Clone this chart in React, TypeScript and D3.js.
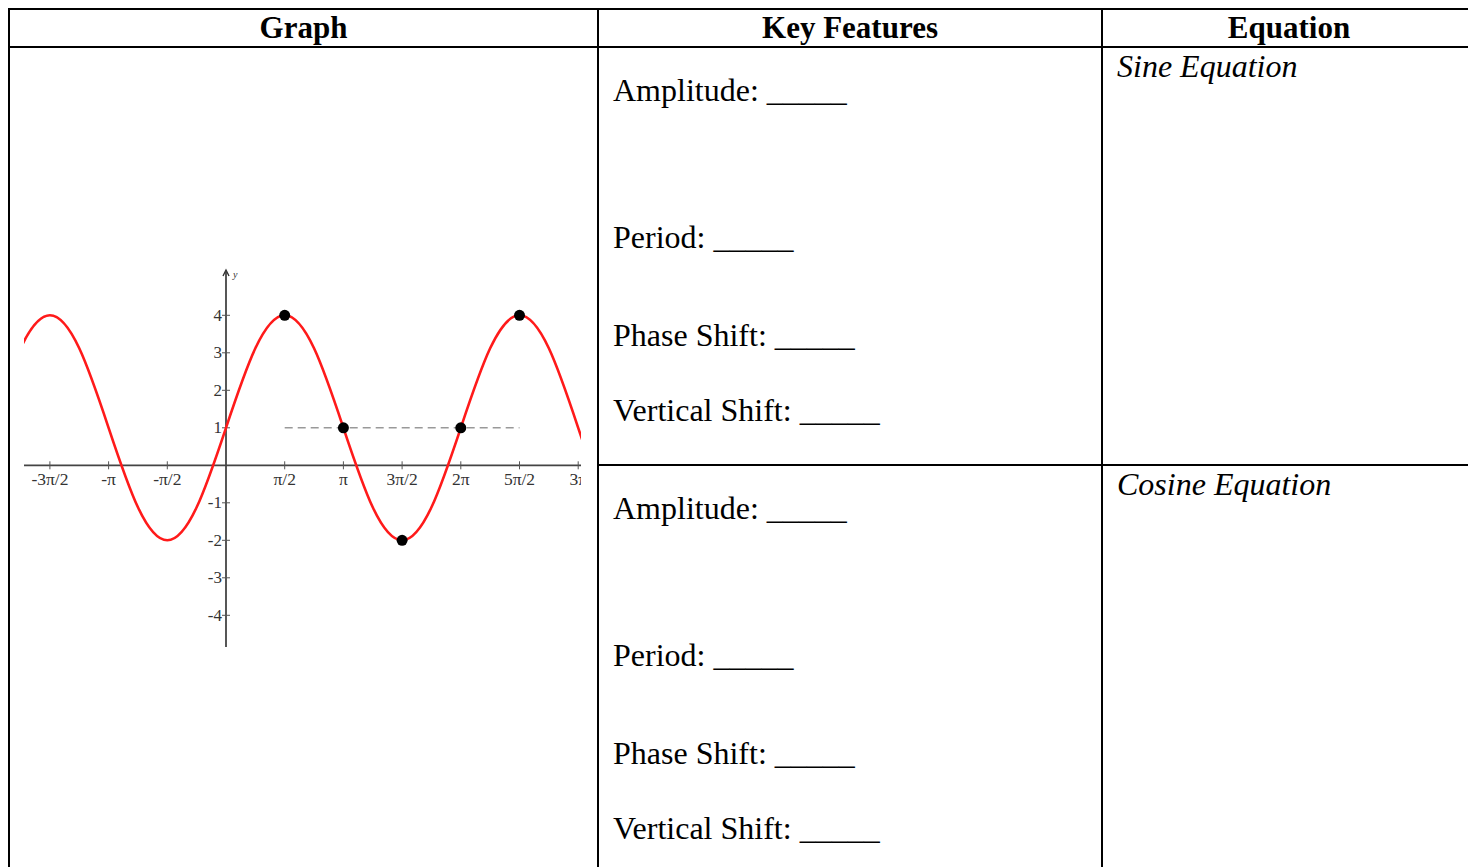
import * as d3 from 'd3';

// curve samples, x in units of π/2, every π/4
const curveX = [-4, -3.5, -3, -2.5, -2, -1.5, -1, -0.5, 0, 0.5, 1, 1.5, 2, 2.5, 3, 3.5, 4, 4.5, 5, 5.5, 6, 6.5, 7, 7.5, 8];
const curveY = [1, 3.12, 4, 3.12, 1, -1.12, -2, -1.12, 1, 3.12, 4, 3.12, 1, -1.12, -2, -1.12, 1, 3.12, 4, 3.12, 1, -1.12, -2, -1.12, 1];

// marked points
const pointX = [1, 2, 3, 4, 5];
const pointY = [4, 1, -2, 1, 4];

// midline
const midlineY = 1;
const midlineFrom = 1;
const midlineTo = 5;

const xTicks = [-3, -2, -1, 1, 2, 3, 4, 5, 6];
const xTickLabels = ['-3π/2', '-π', '-π/2', 'π/2', 'π', '3π/2', '2π', '5π/2', '3π'];
const yTicks = [-4, -3, -2, -1, 1, 2, 3, 4];

const headers = ['Graph', 'Key Features', 'Equation'];
const features = ['Amplitude:', 'Period:', 'Phase Shift:', 'Vertical Shift:'];
const equations = ['Sine Equation', 'Cosine Equation'];

const W = 1468;
const H = 867;
const serif = "'Liberation Serif', 'Times New Roman', serif";

const x = d3.scaleLinear().domain([0, 1]).range([226, 284.7]);
const y = d3.scaleLinear().domain([0, 4]).range([465.3, 315.3]);

const colEdges = [9, 598, 1102, 1476];
const headerY = 47;
const rowY = 465;
const featureBase = [[101, 248, 346, 421], [519, 666, 764, 839]];
const equationBase = [77, 495];

export default function App() {
  const line = d3
    .line<number>()
    .x((_, i) => x(curveX[i]))
    .y((d) => y(d))
    .curve(d3.curveNatural);

  const plotLeft = 24;
  const plotRight = 581;

  return (
    <svg
      width={W}
      height={H}
      style={{ position: 'absolute', left: 0, top: 0, background: '#fff' }}
      fontFamily={serif}
    >
      <defs>
        <clipPath id="plotClip">
          <rect x={plotLeft} y={250} width={plotRight - plotLeft} height={420} />
        </clipPath>
      </defs>

      {/* table borders */}
      <g stroke="#000" strokeWidth={2}>
        <line x1={8} x2={W} y1={9} y2={9} />
        <line x1={8} x2={W} y1={headerY} y2={headerY} />
        <line x1={598} x2={W} y1={rowY} y2={rowY} />
        <line x1={9} x2={9} y1={8} y2={H} />
        <line x1={598} x2={598} y1={8} y2={H} />
        <line x1={1102} x2={1102} y1={8} y2={H} />
      </g>

      {headers.map((h, i) => (
        <text
          key={h}
          x={(colEdges[i] + colEdges[i + 1]) / 2}
          y={38}
          textAnchor="middle"
          fontWeight="bold"
          fontSize={31}
        >
          {h}
        </text>
      ))}

      {featureBase.map((rows, r) =>
        rows.map((b, i) => (
          <text key={`${r}-${i}`} x={613} y={b} fontSize={32}>
            {features[i]} _____
          </text>
        ))
      )}

      {equations.map((e, i) => (
        <text key={e} x={1117} y={equationBase[i]} fontSize={32} fontStyle="italic">
          {e}
        </text>
      ))}

      {/* graph */}
      <g clipPath="url(#plotClip)">
        <line x1={plotLeft} x2={plotRight} y1={y(0)} y2={y(0)} stroke="#444" strokeWidth={1.8} />
        {xTicks.map((t, i) => (
          <g key={t}>
            <line x1={x(t)} x2={x(t)} y1={y(0) - 4} y2={y(0) + 4} stroke="#555" strokeWidth={1} />
            <text x={x(t)} y={y(0) + 20} textAnchor="middle" fontSize={17.5} fill="#333">
              {xTickLabels[i]}
            </text>
          </g>
        ))}

        <line x1={x(0)} x2={x(0)} y1={272} y2={647} stroke="#444" strokeWidth={1.8} />
        <path d={`M${x(0) - 3},${276} L${x(0)},${270} L${x(0) + 3},${276}`} fill="none" stroke="#333" strokeWidth={1.4} />
        <text x={x(0) + 7} y={278} fontSize={10} fontStyle="italic" fill="#333">
          y
        </text>
        {yTicks.map((t) => (
          <g key={t}>
            <line x1={x(0) - 4} x2={x(0) + 4} y1={y(t)} y2={y(t)} stroke="#555" strokeWidth={1} />
            <text x={x(0) - 4} y={y(t) + 5.5} textAnchor="end" fontSize={17} fill="#333">
              {t}
            </text>
          </g>
        ))}

        <line
          x1={x(midlineFrom)}
          x2={x(midlineTo)}
          y1={y(midlineY)}
          y2={y(midlineY)}
          stroke="#999"
          strokeWidth={1.6}
          strokeDasharray="8,5"
        />

        <path d={line(curveY) || ''} fill="none" stroke="#ff1a1a" strokeWidth={2.6} />

        {pointX.map((p, i) => (
          <circle key={p} cx={x(p)} cy={y(pointY[i])} r={5.5} fill="#000" />
        ))}
      </g>
    </svg>
  );
}
